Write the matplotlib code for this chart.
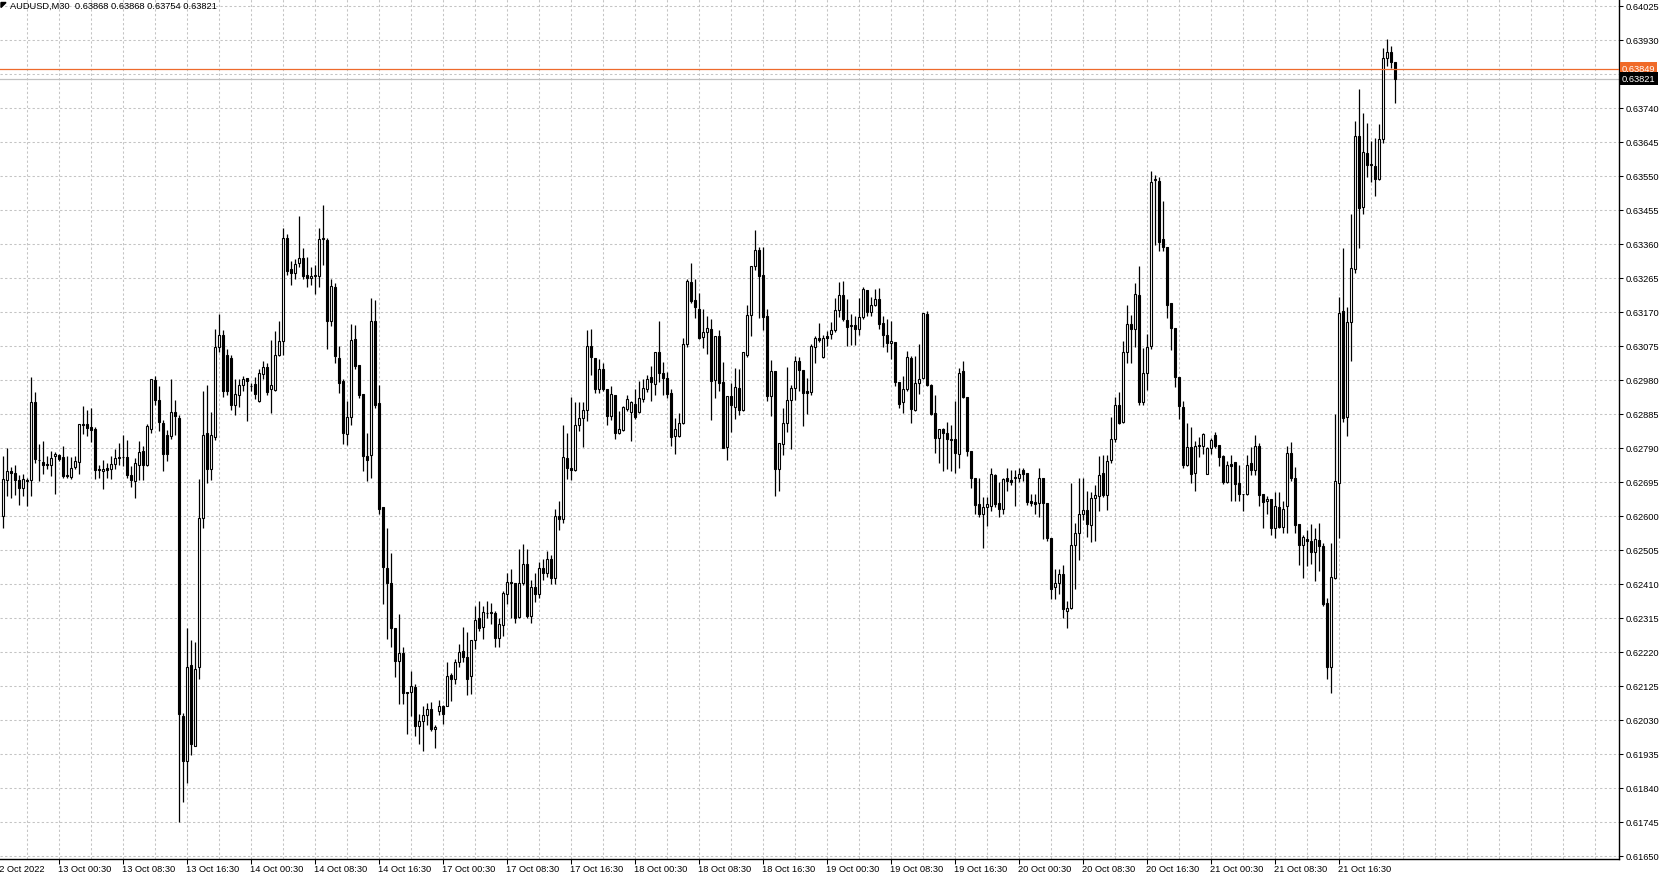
import matplotlib
matplotlib.use("Agg")
import matplotlib.pyplot as plt
from matplotlib.transforms import blended_transform_factory
from matplotlib.patches import Polygon

plt.rcParams['font.family'] = ['Liberation Sans', 'DejaVu Sans']

# AUDUSD M30, prices in points (1e-5), one row per bar: open, high, low, close
bars = [
    (62600, 62768, 62566, 62703), (62701, 62789, 62654, 62724), (62725, 62736, 62649, 62720),
    (62719, 62743, 62659, 62701), (62701, 62715, 62631, 62677), (62677, 62717, 62654, 62703),
    (62701, 62705, 62626, 62697), (62701, 62987, 62656, 62917), (62917, 62945, 62747, 62758),
    (62757, 62800, 62696, 62756), (62750, 62808, 62717, 62743), (62744, 62768, 62730, 62741),
    (62743, 62780, 62710, 62761), (62768, 62777, 62661, 62773), (62771, 62773, 62752, 62758),
    (62764, 62794, 62705, 62712), (62713, 62766, 62705, 62712), (62708, 62764, 62703, 62733),
    (62736, 62766, 62730, 62754), (62749, 62857, 62717, 62857), (62857, 62906, 62829, 62853),
    (62857, 62894, 62822, 62845), (62847, 62901, 62805, 62840), (62842, 62848, 62703, 62729),
    (62730, 62743, 62705, 62727), (62726, 62757, 62675, 62731), (62733, 62747, 62705, 62729),
    (62730, 62766, 62703, 62745), (62744, 62786, 62730, 62761), (62764, 62803, 62743, 62761),
    (62764, 62826, 62738, 62763), (62764, 62812, 62705, 62715), (62715, 62738, 62680, 62699),
    (62696, 62761, 62649, 62747), (62743, 62808, 62701, 62778), (62782, 62794, 62701, 62743),
    (62743, 62857, 62738, 62852), (62842, 62982, 62831, 62982), (62980, 62991, 62910, 62922),
    (62922, 62961, 62836, 62861), (62859, 62866, 62724, 62773), (62826, 62840, 62752, 62773),
    (62822, 62982, 62814, 62890), (62890, 62924, 62826, 62878), (62874, 62880, 61745, 62047),
    (62041, 62050, 61800, 61916), (61916, 62287, 61853, 62178), (62184, 62252, 61932, 61962),
    (61956, 62247, 61956, 62173), (62178, 62703, 62144, 62594), (62594, 62948, 62566, 62825),
    (62830, 62965, 62691, 62731), (62731, 62891, 62699, 62825), (62820, 63121, 62811, 63070),
    (63070, 63164, 63056, 63104), (63104, 63119, 62931, 62948), (63048, 63067, 62936, 62948),
    (63041, 63050, 62896, 62908), (62908, 62982, 62882, 62939), (62936, 62982, 62904, 62964),
    (62964, 62991, 62948, 62982), (62985, 62985, 62864, 62975), (62961, 62970, 62948, 62961),
    (62968, 62988, 62925, 62939), (62921, 63010, 62919, 62999), (62996, 63033, 62982, 63016),
    (63016, 63027, 62936, 62945), (62955, 63090, 62888, 62966), (62950, 63116, 62948, 63048),
    (63048, 63144, 63045, 63087), (63087, 63404, 63050, 63375), (63375, 63387, 63273, 63284),
    (63290, 63313, 63244, 63278), (63278, 63318, 63261, 63303), (63307, 63436, 63295, 63321),
    (63321, 63347, 63261, 63269), (63273, 63324, 63238, 63263), (63263, 63295, 63244, 63271),
    (63271, 63301, 63219, 63273), (63271, 63404, 63238, 63373), (63373, 63469, 63301, 63375),
    (63370, 63375, 63067, 63144), (63144, 63261, 63130, 63241), (63238, 63250, 63027, 63045),
    (63041, 63073, 62942, 62970), (62976, 62982, 62800, 62831), (62829, 62921, 62797, 62877),
    (62877, 63135, 62853, 63090), (63095, 63132, 63011, 63018), (63020, 63020, 62930, 62936),
    (62939, 62939, 62725, 62767), (62767, 62832, 62697, 62756), (62769, 63209, 62706, 63144),
    (63144, 63204, 62902, 62908), (62916, 62964, 62604, 62620), (62623, 62623, 62353, 62457),
    (62455, 62567, 62255, 62413), (62413, 62497, 62232, 62287), (62287, 62287, 62148, 62194),
    (62194, 62325, 62073, 62216), (62216, 62232, 62073, 62106), (62107, 62108, 61991, 62106),
    (62108, 62166, 62041, 62125), (62122, 62129, 61985, 62013), (62012, 62045, 61963, 62027),
    (62027, 62069, 61943, 62043), (62043, 62076, 62015, 62059), (62061, 62080, 61999, 62005),
    (62005, 62015, 61952, 62011), (62055, 62084, 62043, 62067), (62067, 62071, 62018, 62045),
    (62069, 62190, 62067, 62152), (62154, 62160, 62083, 62145), (62145, 62199, 62129, 62192),
    (62190, 62241, 62176, 62220), (62222, 62290, 62192, 62204), (62204, 62275, 62098, 62143),
    (62152, 62253, 62101, 62253), (62253, 62348, 62227, 62309), (62315, 62362, 62278, 62287),
    (62290, 62348, 62255, 62331), (62329, 62362, 62315, 62327), (62327, 62357, 62297, 62331),
    (62329, 62334, 62232, 62257), (62257, 62315, 62234, 62297), (62294, 62390, 62264, 62383),
    (62380, 62441, 62353, 62415), (62415, 62450, 62315, 62411), (62413, 62413, 62301, 62315),
    (62317, 62506, 62315, 62413), (62413, 62520, 62406, 62466), (62466, 62506, 62315, 62320),
    (62320, 62420, 62300, 62400), (62400, 62440, 62360, 62380), (62380, 62470, 62370, 62455),
    (62455, 62480, 62420, 62440), (62440, 62500, 62430, 62480), (62480, 62490, 62410, 62425),
    (62425, 62620, 62410, 62600), (62600, 62640, 62560, 62590), (62590, 62853, 62580, 62765),
    (62762, 62830, 62702, 62732), (62732, 62933, 62700, 62728), (62728, 62918, 62725, 62853),
    (62853, 62918, 62837, 62874), (62874, 62918, 62793, 62895), (62895, 63118, 62865, 63074),
    (63074, 63121, 62992, 63044), (63041, 63041, 62942, 62953), (62953, 63037, 62942, 63009),
    (63011, 63028, 62948, 62953), (62953, 62953, 62853, 62879), (62879, 62962, 62867, 62941),
    (62936, 62936, 62814, 62832), (62832, 62893, 62827, 62841), (62839, 62906, 62837, 62905),
    (62899, 62936, 62893, 62927), (62890, 62921, 62809, 62918), (62911, 62953, 62869, 62877),
    (62890, 62976, 62888, 62930), (62927, 62983, 62918, 62958), (62955, 62992, 62946, 62981),
    (62988, 63018, 62920, 62974), (62967, 63056, 62936, 63056), (63056, 63144, 62974, 63000),
    (62998, 63030, 62936, 62986), (62986, 63002, 62930, 62939), (62942, 62953, 62795, 62821),
    (62823, 62874, 62772, 62841), (62823, 62888, 62821, 62858), (62858, 63097, 62855, 63079),
    (63079, 63262, 63072, 63256), (63254, 63307, 63195, 63200), (63203, 63262, 63153, 63184),
    (63178, 63223, 63093, 63097), (63100, 63177, 63069, 63113), (63113, 63158, 63051, 63125),
    (63123, 63149, 62867, 62976), (62978, 63103, 62929, 63103), (63103, 63118, 62948, 62971),
    (62973, 63029, 62789, 62789), (62791, 62935, 62755, 62935), (62935, 62971, 62833, 62908),
    (62904, 63013, 62870, 62960), (62957, 63010, 62882, 62895), (62895, 63056, 62892, 63056),
    (63050, 63190, 63043, 63162), (63162, 63299, 63103, 63299), (63299, 63399, 63286, 63343),
    (63343, 63351, 63152, 63269), (63273, 63351, 63118, 63155), (63159, 63178, 62920, 62934),
    (62935, 63034, 62878, 63003), (63003, 63003, 62654, 62731), (62731, 62803, 62668, 62803),
    (62799, 62901, 62771, 62859), (62859, 63016, 62833, 62922), (62924, 62966, 62785, 62957),
    (62957, 63047, 62924, 63033), (63033, 63043, 62948, 63006), (63008, 63008, 62850, 62943),
    (62948, 62985, 62885, 62943), (62945, 63081, 62938, 63073), (63071, 63101, 63027, 63097),
    (63097, 63138, 63084, 63090), (63043, 63106, 63040, 63097), (63101, 63115, 63075, 63097),
    (63109, 63140, 63094, 63120), (63118, 63208, 63112, 63176), (63176, 63252, 63155, 63218),
    (63218, 63255, 63143, 63150), (63148, 63205, 63075, 63127), (63134, 63164, 63078, 63131),
    (63134, 63159, 63078, 63122), (63122, 63208, 63106, 63155), (63155, 63239, 63150, 63233),
    (63232, 63232, 63157, 63168), (63168, 63211, 63159, 63190), (63190, 63233, 63187, 63205),
    (63205, 63236, 63122, 63137), (63139, 63159, 63071, 63106), (63106, 63150, 63057, 63083),
    (63083, 63143, 63038, 63087), (63084, 63084, 62963, 62973), (62973, 62973, 62901, 62913),
    (62918, 62989, 62886, 62955), (62953, 63060, 62949, 63044), (63041, 63046, 62858, 62897),
    (62895, 63046, 62893, 62972), (62970, 63079, 62939, 62983), (62986, 63165, 62981, 63165),
    (63163, 63172, 62961, 62964), (62964, 62967, 62880, 62883), (62888, 62936, 62776, 62818),
    (62818, 62843, 62746, 62843), (62841, 62846, 62725, 62832), (62830, 62862, 62730, 62813),
    (62815, 62853, 62725, 62812), (62815, 62921, 62720, 62776), (62772, 63014, 62732, 63000),
    (63004, 63032, 62930, 62933), (62933, 62933, 62767, 62781), (62781, 62781, 62678, 62706),
    (62706, 62706, 62604, 62629), (62632, 62706, 62597, 62604), (62604, 62651, 62511, 62623),
    (62623, 62653, 62571, 62632), (62627, 62732, 62613, 62716), (62713, 62716, 62623, 62634),
    (62636, 62694, 62595, 62620), (62620, 62706, 62604, 62702), (62704, 62732, 62669, 62697),
    (62699, 62729, 62685, 62695), (62704, 62729, 62627, 62707), (62706, 62732, 62694, 62716),
    (62729, 62732, 62697, 62716), (62718, 62718, 62629, 62637), (62641, 62660, 62627, 62635),
    (62639, 62660, 62604, 62632), (62635, 62732, 62595, 62706), (62706, 62706, 62534, 62635),
    (62635, 62635, 62530, 62539), (62539, 62539, 62368, 62396), (62402, 62452, 62367, 62413),
    (62413, 62452, 62381, 62436), (62436, 62462, 62315, 62339), (62334, 62362, 62287, 62343),
    (62343, 62691, 62340, 62517), (62517, 62579, 62395, 62553), (62553, 62704, 62476, 62604),
    (62604, 62704, 62587, 62615), (62615, 62669, 62541, 62577), (62575, 62666, 62527, 62650),
    (62650, 62686, 62528, 62657), (62655, 62767, 62612, 62715), (62718, 62769, 62652, 62657),
    (62657, 62769, 62616, 62753), (62756, 62875, 62746, 62814), (62814, 62933, 62806, 62910),
    (62910, 62946, 62856, 62859), (62862, 63087, 62859, 63058), (63058, 63189, 63027, 63135),
    (63135, 63162, 63027, 63122), (63122, 63249, 63071, 63220), (63218, 63297, 62910, 62917),
    (62917, 63068, 62910, 62998), (62998, 63109, 62952, 63071), (63074, 63562, 63066, 63533),
    (63537, 63552, 63355, 63540), (63536, 63547, 63340, 63366), (63372, 63478, 63340, 63350),
    (63350, 63350, 63152, 63189), (63193, 63193, 63064, 63124), (63124, 63124, 62960, 62987),
    (62987, 62987, 62869, 62907), (62904, 62921, 62734, 62741), (62741, 62859, 62739, 62792),
    (62792, 62849, 62690, 62717), (62719, 62808, 62669, 62796), (62798, 62820, 62765, 62794),
    (62796, 62830, 62772, 62827), (62717, 62792, 62717, 62789), (62789, 62818, 62772, 62811),
    (62825, 62835, 62789, 62796), (62798, 62798, 62739, 62763), (62766, 62769, 62689, 62695),
    (62695, 62753, 62690, 62743), (62745, 62769, 62642, 62740), (62750, 62750, 62642, 62689),
    (62690, 62741, 62642, 62660), (62662, 62662, 62613, 62660), (62662, 62769, 62657, 62743),
    (62746, 62792, 62715, 62727), (62727, 62825, 62715, 62796), (62796, 62804, 62628, 62657),
    (62660, 62660, 62565, 62638), (62640, 62654, 62604, 62647), (62648, 62648, 62547, 62565),
    (62565, 62665, 62538, 62628), (62623, 62665, 62565, 62568), (62568, 62640, 62551, 62620),
    (62626, 62795, 62551, 62774), (62774, 62807, 62698, 62704), (62704, 62737, 62551, 62575),
    (62577, 62577, 62462, 62519), (62519, 62547, 62426, 62541), (62535, 62559, 62459, 62529),
    (62529, 62577, 62466, 62499), (62499, 62567, 62417, 62535), (62531, 62580, 62446, 62514),
    (62514, 62523, 62347, 62353), (62357, 62371, 62143, 62177), (62177, 62523, 62105, 62429),
    (62426, 62883, 62422, 62696), (62692, 63210, 62538, 63165), (63171, 63347, 62862, 62874),
    (62876, 63183, 62822, 63141), (63141, 63444, 63032, 63292), (63290, 63702, 63278, 63662),
    (63662, 63791, 63347, 63459), (63462, 63726, 63444, 63617), (63613, 63698, 63547, 63581),
    (63583, 63646, 63532, 63581), (63577, 63656, 63492, 63541), (63541, 63694, 63537, 63653),
    (63653, 63908, 63641, 63880), (63880, 63932, 63856, 63896), (63896, 63913, 63850, 63868),
    (63868, 63868, 63754, 63821),
]

price_ticks = [64025 - 95 * k for k in range(26)]
time_labels = ['13 Oct 00:30', '13 Oct 08:30', '13 Oct 16:30', '14 Oct 00:30', '14 Oct 08:30',
               '14 Oct 16:30', '17 Oct 00:30', '17 Oct 08:30', '17 Oct 16:30', '18 Oct 00:30',
               '18 Oct 08:30', '18 Oct 16:30', '19 Oct 00:30', '19 Oct 08:30', '19 Oct 16:30',
               '20 Oct 00:30', '20 Oct 08:30', '20 Oct 16:30', '21 Oct 00:30', '21 Oct 08:30',
               '21 Oct 16:30']
time_label_bars = [14 + 16 * k for k in range(len(time_labels))]
ask_price = 63849
bid_price = 63821
title = 'AUDUSD,M30  0.63868 0.63868 0.63754 0.63821'

W, H = 1665, 879
fig = plt.figure(figsize=(W / 100, H / 100), dpi=100)
fig.patch.set_facecolor('white')
ax_w, ax_h = 1619.5, 860
ax = fig.add_axes([0, 1 - ax_h / H, ax_w / W, ax_h / H])
ax.set_xlim(-0.675, (ax_w - 2.7) / 4)
ax.set_ylim(0.616408, 0.640437)

grid_kw = dict(color='#c4c4c4', lw=0.75, dashes=(2.2, 2.2), zorder=0)
for p in price_ticks:
    ax.axhline(p / 1e5, **grid_kw)
for i in range(6, 410, 8):
    ax.axvline(i, **grid_kw)

# candles
o = [b[0] / 1e5 for b in bars]
h = [b[1] / 1e5 for b in bars]
l = [b[2] / 1e5 for b in bars]
c = [b[3] / 1e5 for b in bars]
x = list(range(len(bars)))
ax.vlines(x, l, h, color='black', lw=0.9, zorder=2)
faces = ['white' if cc >= oo else 'black' for oo, cc in zip(o, c)]
ax.bar(x, [cc - oo for oo, cc in zip(o, c)], bottom=o, width=0.55,
       color=faces, edgecolor='black', linewidth=0.8, zorder=3)

# ask / bid lines
ax.axhline(ask_price / 1e5, color='#ee6a2c', lw=0.9, zorder=4)
ax.axhline(bid_price / 1e5, color='#c0c0c0', lw=0.9, zorder=1)
tr = blended_transform_factory(ax.transAxes, ax.transData)
ax.text(1.0015, ask_price / 1e5, '%.5f' % (ask_price / 1e5), transform=tr, fontsize=6.7,
        color='white', va='center', ha='left', zorder=6,
        bbox=dict(boxstyle='square,pad=0.22', fc='#f06a28', ec='none'))
ax.text(1.0015, bid_price / 1e5, '%.5f' % (bid_price / 1e5), transform=tr, fontsize=6.7,
        color='white', va='center', ha='left', zorder=6,
        bbox=dict(boxstyle='square,pad=0.22', fc='black', ec='none'))

# axes frame
for s in ['top', 'left']:
    ax.spines[s].set_visible(False)
for s in ['right', 'bottom']:
    ax.spines[s].set_color('black')
    ax.spines[s].set_linewidth(1.0)

ax.yaxis.tick_right()
shown = [p for p in price_ticks if p != 63835]
ax.set_yticks([p / 1e5 for p in shown])
ax.set_yticklabels(['%.5f' % (p / 1e5) for p in shown])
ax.tick_params(axis='y', length=3, width=0.75, pad=1.5, labelsize=6.7, colors='black')

ax.set_xticks(time_label_bars)
ax.set_xticklabels([])
ax.tick_params(axis='x', length=3.5, width=0.75)
for i, lab in zip(time_label_bars, time_labels):
    ax.annotate(lab, xy=(i, 0), xycoords=('data', 'axes fraction'), xytext=(-1, -5),
                textcoords='offset pixels', fontsize=6.7, ha='left', va='top',
                annotation_clip=False)
# first date label runs off the left edge, as in the terminal
ax.annotate('12 Oct 2022', xy=(-1.9, 0), xycoords=('data', 'axes fraction'), xytext=(-1, -5),
            textcoords='offset pixels', fontsize=6.7, ha='left', va='top',
            annotation_clip=False)

# title with small marker
fig.text(10 / W, 1 - 1.5 / H, title, fontsize=6.7, ha='left', va='top')
tri = Polygon([[1 / W, 1 - 3.5 / H], [6 / W, 1 - 3.5 / H], [1 / W, 1 - 8.5 / H]],
              closed=True, transform=fig.transFigure, color='black')
fig.patches.append(tri)

fig.savefig('out.png', dpi=100, facecolor='white')
